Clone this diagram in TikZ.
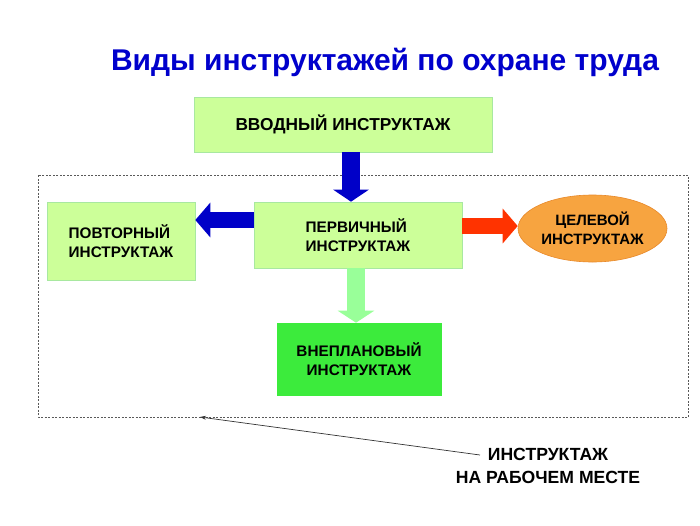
\documentclass[tikz,border=0pt]{standalone}
\usepackage{fontspec}
\setmainfont{Liberation Sans}
\usetikzlibrary{arrows.meta,shapes.geometric}
\definecolor{boxgreen}{HTML}{CCFF99}
\definecolor{boxline}{HTML}{A8E8A0}
\definecolor{brightgreen}{HTML}{3CEB3C}
\definecolor{arrblue}{HTML}{0000C8}
\definecolor{titleblue}{HTML}{0000CC}
\definecolor{arrred}{HTML}{FF3300}
\definecolor{arrlgreen}{HTML}{99FF99}
\definecolor{ellfill}{HTML}{F7A440}
\definecolor{ellline}{HTML}{E8892A}
\tikzset{
  box/.style={draw=boxline, fill=boxgreen, line width=0.6pt, inner sep=0pt,
    font=\bfseries\fontsize{15.3}{19}\selectfont}
}
\begin{document}
\begin{tikzpicture}[x=1pt,y=-1pt]
\useasboundingbox (0,0) rectangle (700,525);
% title
\node[text=titleblue, font=\bfseries\fontsize{30}{34}\selectfont] (title) at (385,62) {Виды инструктажей по охране труда};
% dashed frame
\draw[gray!70!black, line width=0.6pt, dash pattern=on 2pt off 1.5pt] (38,175) rectangle (688,417);
% boxes
\node[box, minimum width=298pt, minimum height=55pt, font=\bfseries\fontsize{17.3}{19}\selectfont] (vv) at (343,124.5) {ВВОДНЫЙ ИНСТРУКТАЖ};
\node[box, minimum width=148pt, minimum height=78pt, align=left] (povt) at (121,241) {ПОВТОРНЫЙ\\ИНСТРУКТАЖ};
\node[box, minimum width=208pt, minimum height=66pt, align=left] (perv) at (358,235) {ПЕРВИЧНЫЙ\\ИНСТРУКТАЖ};
\node[box, draw=brightgreen, fill=brightgreen, minimum width=164pt, minimum height=72pt, align=center] (vnep) at (359,359) {ВНЕПЛАНОВЫЙ\\ИНСТРУКТАЖ};
\node[ellipse, draw=ellline, fill=ellfill, line width=0.6pt, minimum width=149pt, minimum height=67pt, inner sep=0pt, align=center, font=\bfseries\fontsize{15}{19}\selectfont] (cel) at (592.5,228.5) {ЦЕЛЕВОЙ\\ИНСТРУКТАЖ};
% fat arrows
\draw[arrblue, line width=18pt, -{Triangle[length=12pt,width=35pt]}] (vv.south -| 351,0) -- (perv.north -| 351,0);
\draw[arrblue, line width=16pt, -{Triangle[length=15pt,width=34pt]}] (perv.west |- 0,220) -- (povt.east |- 0,220);
\draw[arrred, line width=16pt, -{Triangle[length=15pt,width=34pt]}] (perv.east |- 0,226) -- (cel.west |- 0,226);
\draw[arrlgreen, line width=18pt, -{Triangle[length=12pt,width=36pt]}] (perv.south -| 356,0) -- (vnep.north -| 356,0);
% bottom label
\node[font=\bfseries\fontsize{17.6}{23}\selectfont, align=center] (lbl) at (548,466) {ИНСТРУКТАЖ\\НА РАБОЧЕМ МЕСТЕ};
\coordinate (p1) at (480,455);
\coordinate (p2) at (200,417);
\draw[black!80, line width=0.7pt, -{Stealth[length=6pt,width=4pt]}] (p1) -- (p2);
\end{tikzpicture}
\end{document}
